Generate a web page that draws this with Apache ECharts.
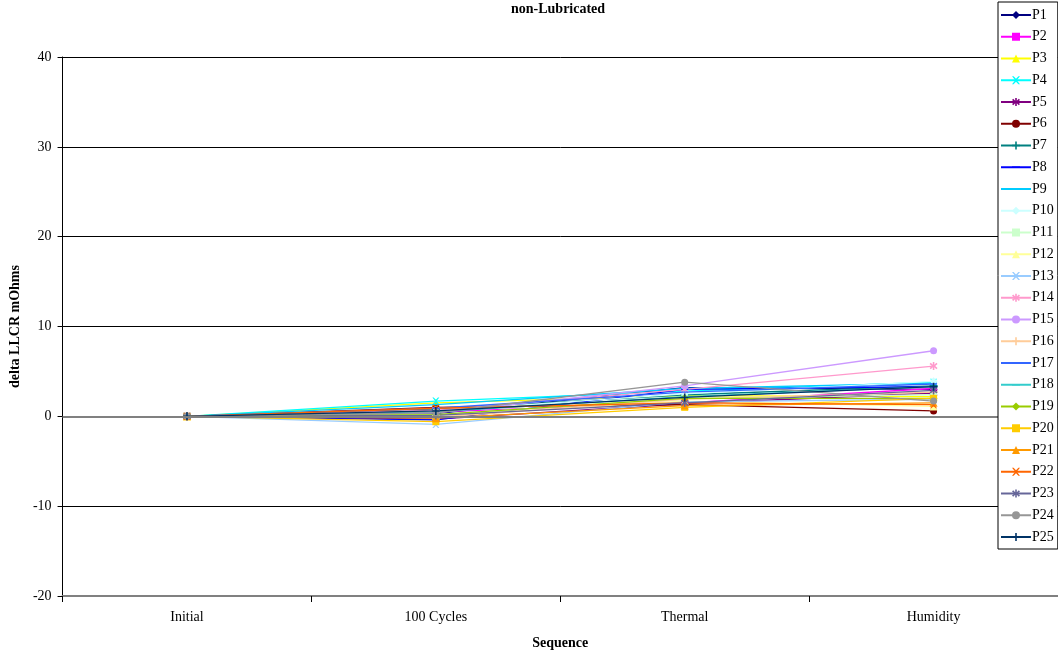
<!DOCTYPE html>
<html>
<head>
<meta charset="utf-8">
<script src="https://cdn.jsdelivr.net/npm/echarts@6/dist/echarts.min.js"></script>
<style>html,body{margin:0;padding:0;background:#fff;}#c{width:1058px;height:655px;}</style>
</head>
<body>
<div id="c"></div>
<script>
const categories = ['Initial', '100 Cycles', 'Thermal', 'Humidity'];
const seriesNames = ['P1','P2','P3','P4','P5','P6','P7','P8','P9','P10','P11','P12','P13','P14','P15','P16','P17','P18','P19','P20','P21','P22','P23','P24','P25'];
const P1  = [0, 0.3, 3.2, 3.0];
const P2  = [0, 0.5, 1.5, 3.1];
const P3  = [0, 1.5, 2.3, 2.2];
const P4  = [0, 1.7, 2.8, 3.8];
const P5  = [0, -0.3, 1.4, 2.6];
const P6  = [0, 1.0, 1.3, 0.6];
const P7  = [0, 0.8, 2.4, 3.4];
const P8  = [0, -0.4, 3.0, 3.3];
const P9  = [0, 1.3, 3.1, 3.7];
const P10 = [0, 0.6, 2.5, 3.9];
const P11 = [0, 0.2, 2.0, 2.4];
const P12 = [0, 0.1, 1.7, 1.1];
const P13 = [0, -0.9, 1.6, 1.9];
const P14 = [0, 0.7, 3.0, 5.6];
const P15 = [0, 0.4, 3.4, 7.3];
const P16 = [0, -0.1, 1.9, 2.7];
const P17 = [0, 0.9, 2.7, 3.6];
const P18 = [0, 0.5, 2.2, 3.3];
const P19 = [0, 0.2, 2.0, 2.0];
const P20 = [0, -0.6, 1.0, 2.0];
const P21 = [0, -0.2, 1.2, 1.5];
const P22 = [0, 0.9, 1.5, 1.3];
const P23 = [0, 0.1, 1.5, 2.9];
const P24 = [0, 0.4, 3.8, 1.7];
const P25 = [0, 0.6, 2.1, 3.3];
const seriesValues = [P1,P2,P3,P4,P5,P6,P7,P8,P9,P10,P11,P12,P13,P14,P15,P16,P17,P18,P19,P20,P21,P22,P23,P24,P25];
const colors = ['#000080','#FF00FF','#FFFF00','#00FFFF','#800080','#800000','#008080','#0000FF','#00CCFF','#CCFFFF','#CCFFCC','#FFFF99','#99CCFF','#FF99CC','#CC99FF','#FFCC99','#3366FF','#33CCCC','#99CC00','#FFCC00','#FF9900','#FF6600','#666699','#969696','#003366'];
const yTicks = [-20, -10, 0, 10, 20, 30, 40];

const X = 'path://M0,0L2,0L5,3L8,0L10,0L6,5L10,10L8,10L5,7L2,10L0,10L4,5Z';
const STAR = 'path://M4,0L6,0L6,3.5L8.5,1L10,2.5L7,5L10,7.5L8.5,9L6,6.5L6,10L4,10L4,6.5L1.5,9L0,7.5L3,5L0,2.5L1.5,1L4,3.5Z';
const PLUS = 'path://M4,0L6,0L6,4L10,4L10,6L6,6L6,10L4,10L4,6L0,6L0,4L4,4Z';
const DASH = 'path://M0,0L0.01,0L0,0.01ZM0,4L10,4L10,6L0,6ZM10,10L9.99,10L10,9.99Z';
const shapes = [
  ['diamond', 8], ['rect', 7], ['triangle', 8], [X, 7], [STAR, 8], ['circle', 7], [PLUS, 8], [DASH, 7],
  [DASH, 7], ['diamond', 8], ['rect', 7], ['triangle', 8], [X, 7], [STAR, 8], ['circle', 7], [PLUS, 8],
  [DASH, 7], [DASH, 7], ['diamond', 8], ['rect', 7], ['triangle', 8], [X, 7], [STAR, 8], ['circle', 7], [PLUS, 8]
];

const series = seriesNames.map((n, i) => ({
  name: n,
  type: 'line',
  data: seriesValues[i],
  symbol: shapes[i][0],
  symbolSize: shapes[i][1],
  showAllSymbol: true,
  lineStyle: { color: colors[i], width: 1.3 },
  itemStyle: { color: colors[i] },
  emphasis: { disabled: true },
  animation: false,
  z: 3
}));
series.push({
  name: '_zero', type: 'line', data: [], silent: true, z: 2,
  markLine: { symbol: 'none', silent: true, label: { show: false },
    lineStyle: { color: '#808080', width: 2, type: 'solid' },
    data: [{ yAxis: 0 }] }
});

const FONT = 'Liberation Serif';
const chart = echarts.init(document.getElementById('c'), null, { renderer: 'canvas' });
chart.setOption({
  animation: false,
  backgroundColor: '#ffffff',
  title: {
    text: 'non-Lubricated', left: 506, top: -3,
    textStyle: { fontFamily: FONT, fontSize: 14, fontWeight: 'bold', color: '#000' }
  },
  grid: { left: 62, right: -4, top: 57, bottom: 58, containLabel: false },
  legend: {
    orient: 'vertical', left: 998, top: 2,
    data: seriesNames,
    backgroundColor: '#fff', borderColor: '#000', borderWidth: 1,
    padding: [6, 4, 5, 2],
    itemWidth: 30, itemHeight: 10, itemGap: 7.75,
    textStyle: { fontFamily: FONT, fontSize: 14, color: '#000', padding: [0, 0, 0, -4] },
    z: 10
  },
  xAxis: {
    type: 'category', data: categories, boundaryGap: true,
    axisLine: { onZero: false, lineStyle: { color: '#808080', width: 2 } },
    axisTick: { show: true, length: 6, lineStyle: { color: '#000' } },
    axisLabel: { fontFamily: FONT, fontSize: 14, color: '#000', margin: 14 },
    name: 'Sequence', nameLocation: 'middle', nameGap: 40,
    nameTextStyle: { fontFamily: FONT, fontSize: 14, fontWeight: 'bold', color: '#000' }
  },
  yAxis: {
    type: 'value', min: yTicks[0], max: yTicks[yTicks.length - 1], interval: 10,
    axisLine: { show: true, lineStyle: { color: '#000', width: 1 } },
    axisTick: { show: true, length: 5, lineStyle: { color: '#000' } },
    axisLabel: { fontFamily: FONT, fontSize: 14, color: '#000', margin: 11 },
    splitLine: { show: true, lineStyle: { color: '#000', width: 1 } },
    name: 'delta LLCR mOhms', nameLocation: 'middle', nameGap: 40, nameRotate: 90,
    nameTextStyle: { fontFamily: FONT, fontSize: 14, fontWeight: 'bold', color: '#000' }
  },
  series: series
});
</script>
</body>
</html>
